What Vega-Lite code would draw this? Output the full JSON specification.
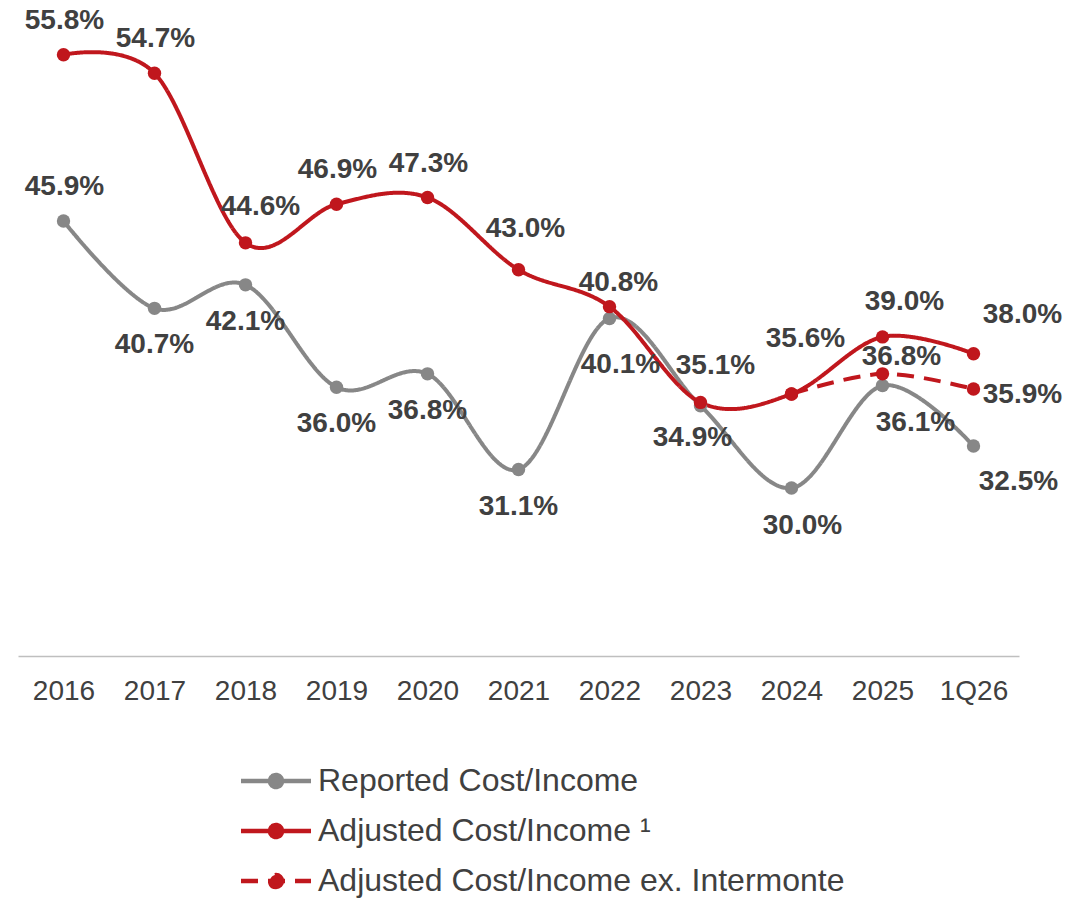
{
  "$schema": "https://vega.github.io/schema/vega-lite/v6.json",
  "width": 1001,
  "height": 655,
  "autosize": {"type": "none"},
  "padding": {"left": 18, "top": 1, "right": 70, "bottom": 243},
  "background": "white",
  "config": {
    "view": {"stroke": null},
    "font": "Liberation Sans",
    "axis": {"grid": false}
  },
  "data": {
    "values": [
      {"period": "2016", "series": "Reported Cost/Income", "value": 0.459},
      {"period": "2017", "series": "Reported Cost/Income", "value": 0.407},
      {"period": "2018", "series": "Reported Cost/Income", "value": 0.421},
      {"period": "2019", "series": "Reported Cost/Income", "value": 0.360},
      {"period": "2020", "series": "Reported Cost/Income", "value": 0.368},
      {"period": "2021", "series": "Reported Cost/Income", "value": 0.311},
      {"period": "2022", "series": "Reported Cost/Income", "value": 0.401},
      {"period": "2023", "series": "Reported Cost/Income", "value": 0.349},
      {"period": "2024", "series": "Reported Cost/Income", "value": 0.300},
      {"period": "2025", "series": "Reported Cost/Income", "value": 0.361},
      {"period": "1Q26", "series": "Reported Cost/Income", "value": 0.325},
      {"period": "2016", "series": "Adjusted Cost/Income", "value": 0.558},
      {"period": "2017", "series": "Adjusted Cost/Income", "value": 0.547},
      {"period": "2018", "series": "Adjusted Cost/Income", "value": 0.446},
      {"period": "2019", "series": "Adjusted Cost/Income", "value": 0.469},
      {"period": "2020", "series": "Adjusted Cost/Income", "value": 0.473},
      {"period": "2021", "series": "Adjusted Cost/Income", "value": 0.430},
      {"period": "2022", "series": "Adjusted Cost/Income", "value": 0.408},
      {"period": "2023", "series": "Adjusted Cost/Income", "value": 0.351},
      {"period": "2024", "series": "Adjusted Cost/Income", "value": 0.356},
      {"period": "2025", "series": "Adjusted Cost/Income", "value": 0.390},
      {"period": "1Q26", "series": "Adjusted Cost/Income", "value": 0.380},
      {"period": "2024", "series": "Adjusted Cost/Income ex. Intermonte", "value": 0.356},
      {"period": "2025", "series": "Adjusted Cost/Income ex. Intermonte", "value": 0.368},
      {"period": "1Q26", "series": "Adjusted Cost/Income ex. Intermonte", "value": 0.359}
    ]
  },
  "encoding": {
    "x": {
      "field": "period",
      "type": "ordinal",
      "sort": ["2016", "2017", "2018", "2019", "2020", "2021", "2022", "2023", "2024", "2025", "1Q26"],
      "scale": {"type": "point", "padding": 0.5},
      "axis": {
        "title": null,
        "labelAngle": 0,
        "ticks": false,
        "domainColor": "#BFBFBF",
        "domainWidth": 1.5,
        "labelFont": "Liberation Sans",
        "labelFontSize": 28,
        "labelColor": "#404040",
        "labelPadding": 21
      }
    },
    "y": {
      "field": "value",
      "type": "quantitative",
      "scale": {"domain": [0.20, 0.59], "zero": false, "nice": false},
      "axis": null
    }
  },
  "layer": [
    {
      "mark": {"type": "line", "interpolate": "cardinal", "strokeWidth": 4},
      "encoding": {
        "color": {
          "field": "series",
          "type": "nominal",
          "scale": {
            "domain": ["Reported Cost/Income", "Adjusted Cost/Income", "Adjusted Cost/Income ex. Intermonte"],
            "range": ["#878787", "#C0171D", "#C0171D"]
          },
          "legend": {
            "orient": "none",
            "legendX": 242,
            "legendY": 764,
            "title": null,
            "direction": "vertical",
            "padding": 0,
            "symbolType": "M-3.5,0H3.5M0.6,0A0.6,0.6 0 1 1 -0.6,0A0.6,0.6 0 1 1 0.6,0Z",
            "symbolSize": 400,
            "symbolStrokeWidth": 4.5,
            "labelFont": "Liberation Sans",
            "labelFontSize": 32,
            "labelColor": "#404040",
            "labelOffset": 26,
            "labelLimit": 0,
            "rowPadding": 18,
            "labelExpr": "datum.label == 'Adjusted Cost/Income' ? 'Adjusted Cost/Income ¹' : datum.label",
            "encode": {
              "symbols": {
                "update": {
                  "fill": {"scale": "color", "field": "value"},
                  "stroke": {"scale": "color", "field": "value"},
                  "strokeDash": {"signal": "datum.value == 'Adjusted Cost/Income ex. Intermonte' ? [13, 8] : [1, 0]"}
                }
              }
            }
          }
        },
        "strokeDash": {
          "field": "series",
          "type": "nominal",
          "scale": {
            "domain": ["Reported Cost/Income", "Adjusted Cost/Income", "Adjusted Cost/Income ex. Intermonte"],
            "range": [[1, 0], [1, 0], [17, 10]]
          },
          "legend": null
        }
      }
    },
    {
      "mark": {"type": "point", "filled": true, "size": 180, "opacity": 1},
      "encoding": {
        "color": {"field": "series", "type": "nominal", "legend": null}
      }
    },
    {
      "transform": [{"filter": {"or": [
        {"and": [{"field": "series", "equal": "Adjusted Cost/Income"}, {"field": "period", "oneOf": ["2016", "2017", "2019", "2020"]}]},
        {"and": [{"field": "series", "equal": "Reported Cost/Income"}, {"field": "period", "equal": "2016"}]}
      ]}}],
      "mark": {"type": "text", "fontSize": 28, "fontWeight": "bold", "fill": "#404040", "baseline": "middle", "align": "center", "dx": 1, "dy": -34},
      "encoding": {"text": {"field": "value", "type": "quantitative", "format": ".1%"}}
    },
    {
      "transform": [{"filter": {"and": [{"field": "series", "equal": "Adjusted Cost/Income"}, {"field": "period", "oneOf": ["2018", "2023"]}]}}],
      "mark": {"type": "text", "fontSize": 28, "fontWeight": "bold", "fill": "#404040", "baseline": "middle", "align": "center", "dx": 15, "dy": -36},
      "encoding": {"text": {"field": "value", "type": "quantitative", "format": ".1%"}}
    },
    {
      "transform": [{"filter": {"and": [{"field": "series", "equal": "Reported Cost/Income"}, {"field": "period", "oneOf": ["2017", "2018", "2019", "2020", "2021"]}]}}],
      "mark": {"type": "text", "fontSize": 28, "fontWeight": "bold", "fill": "#404040", "baseline": "middle", "align": "center", "dx": 0, "dy": 37},
      "encoding": {"text": {"field": "value", "type": "quantitative", "format": ".1%"}}
    },
    {
      "transform": [{"filter": {"and": [{"field": "series", "equal": "Adjusted Cost/Income"}, {"field": "period", "equal": "2021"}]}}],
      "mark": {"type": "text", "fontSize": 28, "fontWeight": "bold", "fill": "#404040", "baseline": "middle", "align": "center", "dx": 7, "dy": -41},
      "encoding": {"text": {"field": "value", "type": "quantitative", "format": ".1%"}}
    },
    {
      "transform": [{"filter": {"and": [{"field": "series", "equal": "Adjusted Cost/Income"}, {"field": "period", "equal": "2022"}]}}],
      "mark": {"type": "text", "fontSize": 28, "fontWeight": "bold", "fill": "#404040", "baseline": "middle", "align": "center", "dx": 9, "dy": -24},
      "encoding": {"text": {"field": "value", "type": "quantitative", "format": ".1%"}}
    },
    {
      "transform": [{"filter": {"and": [{"field": "series", "equal": "Adjusted Cost/Income"}, {"field": "period", "equal": "2024"}]}}],
      "mark": {"type": "text", "fontSize": 28, "fontWeight": "bold", "fill": "#404040", "baseline": "middle", "align": "center", "dx": 14, "dy": -55},
      "encoding": {"text": {"field": "value", "type": "quantitative", "format": ".1%"}}
    },
    {
      "transform": [{"filter": {"and": [{"field": "series", "equal": "Adjusted Cost/Income"}, {"field": "period", "equal": "2025"}]}}],
      "mark": {"type": "text", "fontSize": 28, "fontWeight": "bold", "fill": "#404040", "baseline": "middle", "align": "center", "dx": 22, "dy": -35},
      "encoding": {"text": {"field": "value", "type": "quantitative", "format": ".1%"}}
    },
    {
      "transform": [{"filter": {"and": [{"field": "series", "equal": "Adjusted Cost/Income"}, {"field": "period", "equal": "1Q26"}]}}],
      "mark": {"type": "text", "fontSize": 28, "fontWeight": "bold", "fill": "#404040", "baseline": "middle", "align": "center", "dx": 49, "dy": -39},
      "encoding": {"text": {"field": "value", "type": "quantitative", "format": ".1%"}}
    },
    {
      "transform": [{"filter": {"and": [{"field": "series", "equal": "Adjusted Cost/Income ex. Intermonte"}, {"field": "period", "equal": "2025"}]}}],
      "mark": {"type": "text", "fontSize": 28, "fontWeight": "bold", "fill": "#404040", "baseline": "middle", "align": "center", "dx": 19, "dy": -17},
      "encoding": {"text": {"field": "value", "type": "quantitative", "format": ".1%"}}
    },
    {
      "transform": [{"filter": {"and": [{"field": "series", "equal": "Adjusted Cost/Income ex. Intermonte"}, {"field": "period", "equal": "1Q26"}]}}],
      "mark": {"type": "text", "fontSize": 28, "fontWeight": "bold", "fill": "#404040", "baseline": "middle", "align": "center", "dx": 49, "dy": 6},
      "encoding": {"text": {"field": "value", "type": "quantitative", "format": ".1%"}}
    },
    {
      "transform": [{"filter": {"and": [{"field": "series", "equal": "Reported Cost/Income"}, {"field": "period", "equal": "2022"}]}}],
      "mark": {"type": "text", "fontSize": 28, "fontWeight": "bold", "fill": "#404040", "baseline": "middle", "align": "center", "dx": 11, "dy": 47},
      "encoding": {"text": {"field": "value", "type": "quantitative", "format": ".1%"}}
    },
    {
      "transform": [{"filter": {"and": [{"field": "series", "equal": "Reported Cost/Income"}, {"field": "period", "equal": "2023"}]}}],
      "mark": {"type": "text", "fontSize": 28, "fontWeight": "bold", "fill": "#404040", "baseline": "middle", "align": "center", "dx": -8, "dy": 32},
      "encoding": {"text": {"field": "value", "type": "quantitative", "format": ".1%"}}
    },
    {
      "transform": [{"filter": {"and": [{"field": "series", "equal": "Reported Cost/Income"}, {"field": "period", "equal": "2024"}]}}],
      "mark": {"type": "text", "fontSize": 28, "fontWeight": "bold", "fill": "#404040", "baseline": "middle", "align": "center", "dx": 11, "dy": 38},
      "encoding": {"text": {"field": "value", "type": "quantitative", "format": ".1%"}}
    },
    {
      "transform": [{"filter": {"and": [{"field": "series", "equal": "Reported Cost/Income"}, {"field": "period", "equal": "2025"}]}}],
      "mark": {"type": "text", "fontSize": 28, "fontWeight": "bold", "fill": "#404040", "baseline": "middle", "align": "center", "dx": 33, "dy": 37},
      "encoding": {"text": {"field": "value", "type": "quantitative", "format": ".1%"}}
    },
    {
      "transform": [{"filter": {"and": [{"field": "series", "equal": "Reported Cost/Income"}, {"field": "period", "equal": "1Q26"}]}}],
      "mark": {"type": "text", "fontSize": 28, "fontWeight": "bold", "fill": "#404040", "baseline": "middle", "align": "center", "dx": 45, "dy": 36},
      "encoding": {"text": {"field": "value", "type": "quantitative", "format": ".1%"}}
    }
  ]
}
